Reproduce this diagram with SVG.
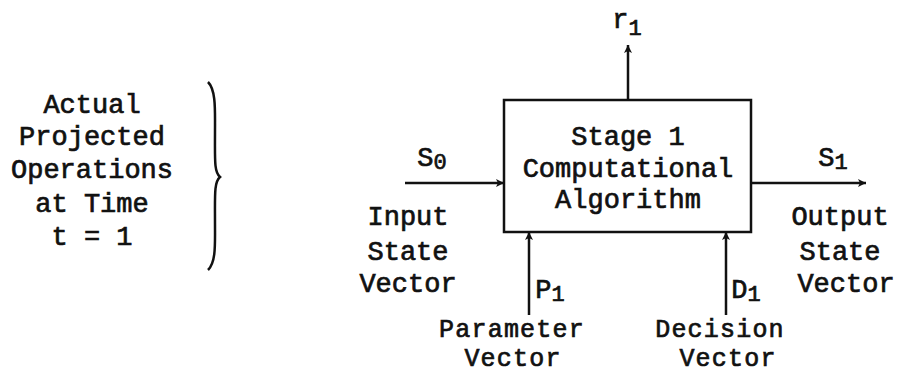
<svg xmlns="http://www.w3.org/2000/svg" width="900" height="375" viewBox="0 0 900 375">
<defs>
<marker id="arr" markerWidth="10" markerHeight="10" refX="9" refY="5" orient="auto" markerUnits="userSpaceOnUse">
<path d="M1,1 L9,5 L1,9 L3,5 z" fill="#111"/>
</marker>
<style>
text{font-family:"Liberation Mono","Courier New",monospace;font-size:27px;fill:#111;stroke:#111;stroke-width:0.7;text-anchor:middle}
.sub{font-size:22px}
.b{font-size:25px;letter-spacing:1.2px}
.l{stroke:#111;stroke-width:2.5;fill:none}
</style>
</defs>
<rect width="900" height="375" fill="#fff"/>
<g id="label-left">
<text x="92" y="113">Actual</text>
<text x="92" y="145">Projected</text>
<text x="92" y="178">Operations</text>
<text x="92" y="212">at Time</text>
<text x="92" y="245">t = 1</text>
</g>
<g id="brace">
<path class="l" stroke-width="3.5" d="M208,82 C216,90 215,110 215,130 C215,160 214,172 220,177 C214,182 215,195 215,225 C215,245 216,262 208,270"/>
</g>
<g id="stage1">
<rect class="l" x="504" y="100" width="247" height="132"/>
<text x="628" y="145">Stage 1</text>
<text x="628" y="177">Computational</text>
<text x="628" y="208">Algorithm</text>
</g>
<g id="input-label">
<text x="408" y="225">Input</text>
<text x="408" y="260">State</text>
<text x="408" y="292">Vector</text>
</g>
<g id="output-label">
<text x="840" y="225">Output</text>
<text x="840" y="260">State</text>
<text x="846" y="292">Vector</text>
</g>
<g id="param-label">
<text class="b" x="512" y="337">Parameter</text>
<text class="b" x="513" y="366">Vector</text>
</g>
<g id="decision-label">
<text class="b" x="720" y="337">Decision</text>
<text class="b" x="728" y="366">Vector</text>
</g>
<g id="connectors">
<line class="l" x1="405" y1="183" x2="504" y2="183" marker-end="url(#arr)"/>
<line class="l" x1="751" y1="183" x2="866" y2="183" marker-end="url(#arr)"/>
<line class="l" x1="628" y1="100" x2="628" y2="45" marker-end="url(#arr)"/>
<line class="l" x1="529" y1="315" x2="529" y2="232" marker-end="url(#arr)"/>
<line class="l" x1="726" y1="315" x2="726" y2="232" marker-end="url(#arr)"/>
</g>
<g id="var-labels">
<text x="432" y="166">S<tspan class="sub" dy="3">0</tspan></text>
<text x="833" y="166">S<tspan class="sub" dy="3">1</tspan></text>
<text x="627" y="28">r<tspan class="sub" dy="7">1</tspan></text>
<text x="550" y="298">P<tspan class="sub" dy="3">1</tspan></text>
<text x="746" y="298">D<tspan class="sub" dy="3">1</tspan></text>
</g>
</svg>
